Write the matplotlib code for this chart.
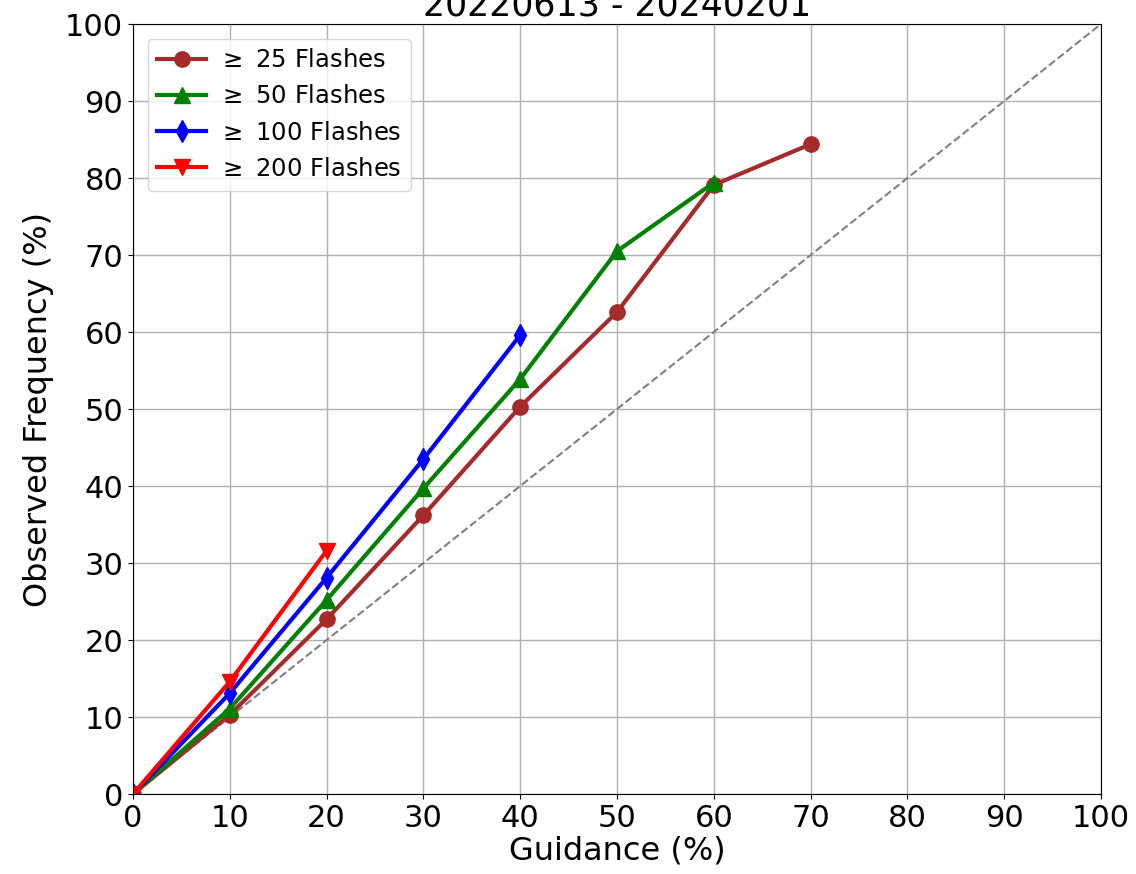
import numpy as np
import matplotlib.pyplot as plt

# guidance bins (%)
guidance = [0, 10, 20, 30, 40, 50, 60, 70]

# observed frequency (%) per flash threshold
obs_25 = [0, 10.3, 22.7, 36.2, 50.3, 62.6, 79.1, 84.4]
obs_50 = [0, 11.1, 25.2, 39.7, 53.9, 70.5, 79.4]
obs_100 = [0, 13.1, 28.1, 43.5, 59.6]
obs_200 = [0, 14.6, 31.6]

fig = plt.figure(figsize=(11.36, 8.74), dpi=100)
ax = fig.add_axes([0.1171, 0.0915, 0.8521, 0.881])

ax.plot([0, 100], [0, 100], '--', color='gray', linewidth=1.5)
ax.plot(guidance[:len(obs_25)], obs_25, marker='o', color='brown', linewidth=3, markersize=11, label=r'$\geq$ 25 Flashes')
ax.plot(guidance[:len(obs_50)], obs_50, marker='^', color='green', linewidth=3, markersize=11, label=r'$\geq$ 50 Flashes')
ax.plot(guidance[:len(obs_100)], obs_100, marker='d', color='blue', linewidth=3, markersize=11, label=r'$\geq$ 100 Flashes')
ax.plot(guidance[:len(obs_200)], obs_200, marker='v', color='red', linewidth=3, markersize=11, label=r'$\geq$ 200 Flashes')

ax.set_xlim(0, 100)
ax.set_ylim(0, 100)
ax.set_xticks(np.arange(0, 101, 10))
ax.set_yticks(np.arange(0, 101, 10))
ax.tick_params(labelsize=22)
ax.grid(True, color='#b0b0b0', linewidth=1)
ax.set_xlabel('Guidance (%)', fontsize=23, labelpad=2)
ax.set_ylabel('Observed Frequency (%)', fontsize=23, labelpad=8)
ax.set_title('20220613 - 20240201', fontsize=25)
ax.legend(loc='upper left', fontsize=17.5, handletextpad=0.5, borderaxespad=0.6)

plt.savefig('out.png', dpi=100)
